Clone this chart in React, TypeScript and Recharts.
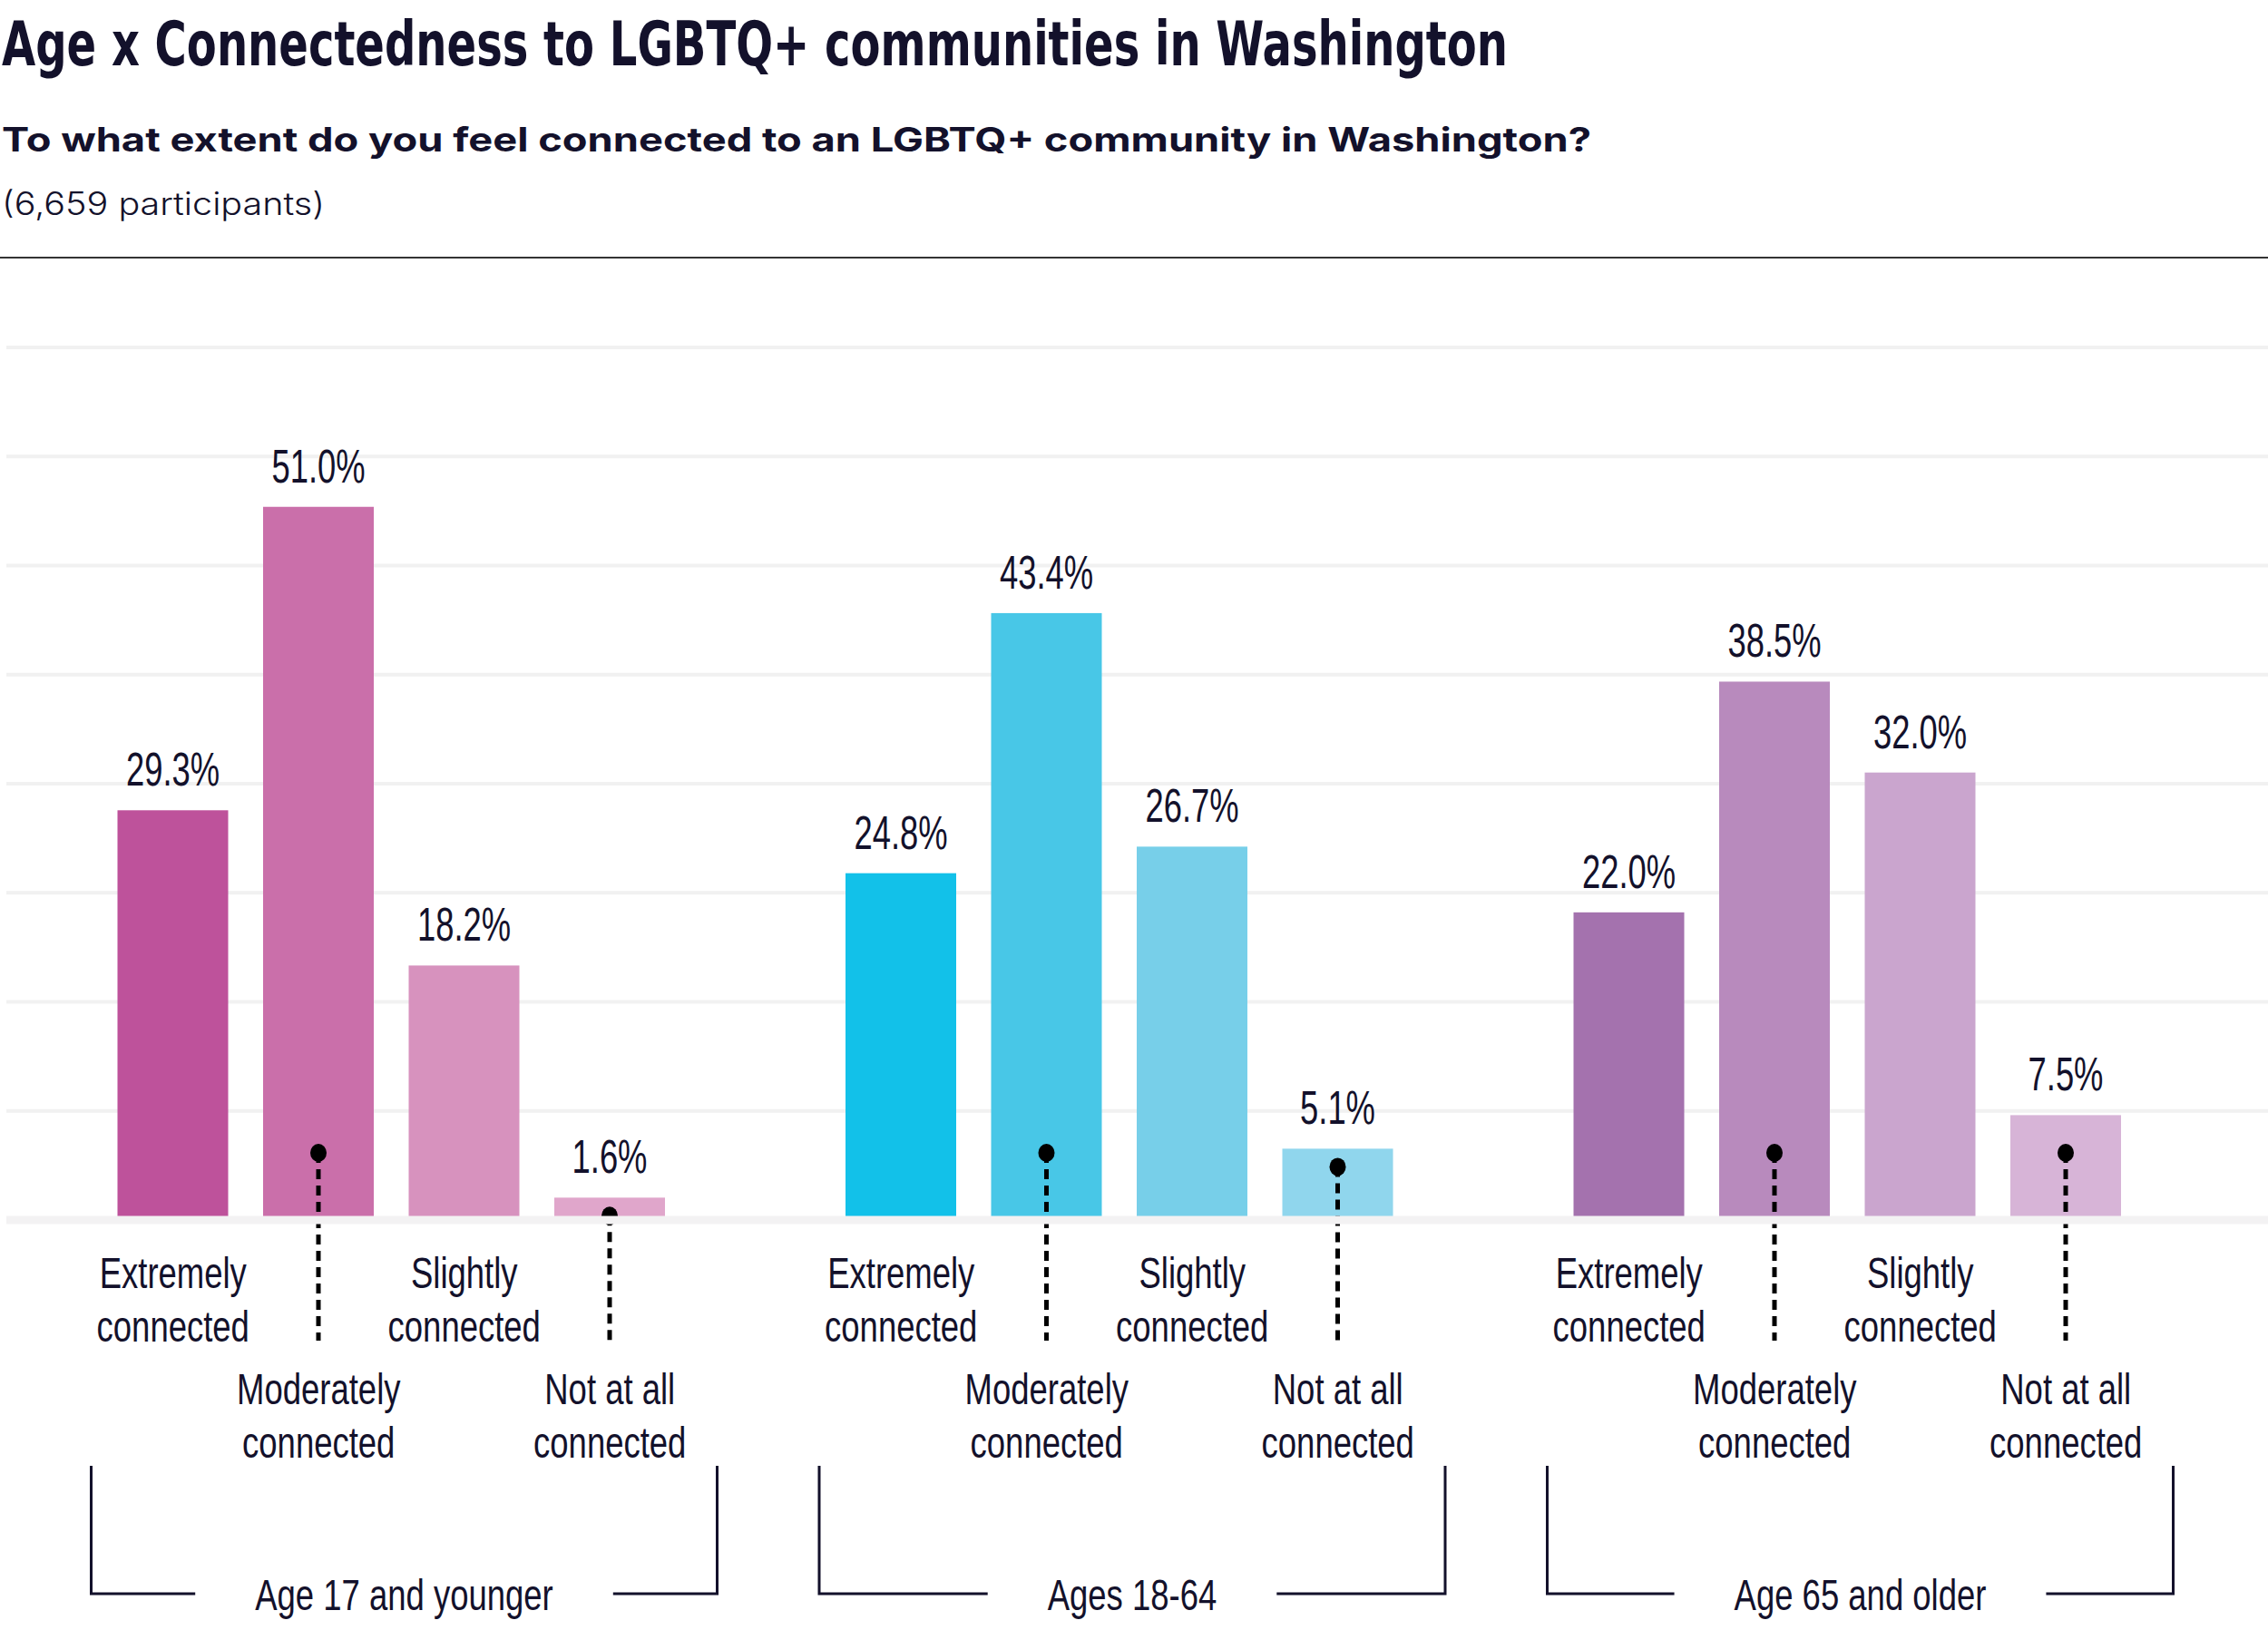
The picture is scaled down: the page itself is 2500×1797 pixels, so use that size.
import React from 'react';
import { BarChart, Bar, XAxis, YAxis, CartesianGrid, LabelList, ReferenceArea } from 'recharts';

const groups = ['Age 17 and younger', 'Ages 18-64', 'Age 65 and older'];
const levels = [
  ['Extremely', 'connected'],
  ['Moderately', 'connected'],
  ['Slightly', 'connected'],
  ['Not at all', 'connected'],
];
const youthValues = [29.3, 51.0, 18.2, 1.6];
const adultValues = [24.8, 43.4, 26.7, 5.1];
const seniorValues = [22.0, 38.5, 32.0, 7.5];
const youthColors = ['#BE529B', '#CA6FAA', '#D792BE', '#E0A6CB'];
const adultColors = ['#12C1E9', '#48C7E7', '#77CFE9', '#90D6ED'];
const seniorColors = ['#A472AE', '#B88ABD', '#CAA5CE', '#D7B4D7'];
const yTicks = [0, 7.8, 15.6, 23.4, 31.2, 39, 46.8, 54.6, 62.4];

const values = [youthValues, adultValues, seniorValues];
const palettes = [youthColors, adultColors, seniorColors];

const rows: any[] = [];
groups.forEach((g, gi) => {
  values[gi].forEach((v, li) => {
    rows.push({ key: `${gi}-${li}`, value: v, color: palettes[gi][li], level: li, group: gi });
  });
  if (gi < groups.length - 1) rows.push({ key: `gap-${gi}`, value: null, level: -1, group: gi });
});

const INK = '#13112B';
const FONT = '"Liberation Sans", Arial, sans-serif';
const LABEL_SIZE = 48;
const LABEL_SQUEEZE = 0.76;

const measure = (s: string, size: number) => {
  const ctx = document.createElement('canvas').getContext('2d');
  if (!ctx) return s.length * size * 0.5;
  ctx.font = `${size}px ${FONT}`;
  return ctx.measureText(s).width;
};

// condensed look: a plain sans squeezed horizontally
const Squeezed = ({ x, y, text, size, squeeze }: any) => (
  <text
    transform={`translate(${x},${y}) scale(${squeeze},1)`}
    textAnchor="middle"
    fontSize={size}
    fontFamily={FONT}
    fill={INK}
  >
    {text}
  </text>
);

const CategoryTick = ({ x, y, index }: any) => {
  const row = rows[index];
  if (!row || row.level < 0) return null;
  const lower = row.level % 2 === 1;
  const top = lower ? 203 : 75;
  const [a, b] = levels[row.level];
  return (
    <g>
      <Squeezed x={x} y={y + top} text={a} size={LABEL_SIZE} squeeze={LABEL_SQUEEZE} />
      <Squeezed x={x} y={y + top + 59} text={b} size={LABEL_SIZE} squeeze={LABEL_SQUEEZE} />
    </g>
  );
};

const BarShape = (props: any) => {
  const { x, y, width, height, payload } = props;
  if (payload.value == null) return null;
  const bottom = y + height;
  const cx = x + width / 2;
  const pointer = payload.level % 2 === 1;
  const cy = Math.max(y + 20, bottom - 74);
  return (
    <g>
      <rect x={x} y={y} width={width} height={height} fill={payload.color} />
      {pointer && (
        <g>
          <line x1={cx} x2={cx} y1={cy} y2={bottom + 133} stroke="#000" strokeWidth={5} strokeDasharray="11 7" />
          <ellipse cx={cx} cy={cy} rx={9} ry={10} fill="#000" />
        </g>
      )}
    </g>
  );
};

const ValueLabel = ({ x, y, width, value }: any) => {
  if (value == null) return null;
  return <Squeezed x={x + width / 2} y={y - 27} text={`${value.toFixed(1)}%`} size={52} squeeze={0.7} />;
};

const makeBracket = (label: string) => (props: any) => {
  const { x, y, width, height } = props;
  const bottom = y + height;
  const left = x - 10;
  const right = x + width + 38;
  const mid = (left + right) / 2;
  const half = (measure(label, LABEL_SIZE) * LABEL_SQUEEZE) / 2 + 66;
  const top = bottom + 271;
  const base = bottom + 412;
  return (
    <g>
      <polyline points={`${mid - half},${base} ${left},${base} ${left},${top}`} fill="none" stroke={INK} strokeWidth={3} />
      <polyline points={`${mid + half},${base} ${right},${base} ${right},${top}`} fill="none" stroke={INK} strokeWidth={3} />
      <Squeezed x={mid} y={bottom + 430} text={label} size={LABEL_SIZE} squeeze={LABEL_SQUEEZE} />
    </g>
  );
};

export default function App() {
  return (
    <div style={{ position: 'relative', width: 2500, height: 1797, background: '#fff', overflow: 'hidden' }}>
      <style>{'body { margin: 0; }'}</style>
      <svg width={2500} height={300} style={{ position: 'absolute', left: 0, top: 0 }}>
        <text
          x={2}
          y={72}
          fontSize={67}
          fontWeight={700}
          fontFamily='"DejaVu Sans Condensed", sans-serif'
          fill={INK}
          textLength={1660}
          lengthAdjust="spacingAndGlyphs"
        >
          Age x Connectedness to LGBTQ+ communities in Washington
        </text>
        <text
          x={2}
          y={167}
          fontSize={37}
          fontWeight={700}
          fontFamily="Inter, sans-serif"
          fill={INK}
          textLength={1752}
          lengthAdjust="spacingAndGlyphs"
        >
          To what extent do you feel connected to an LGBTQ+ community in Washington?
        </text>
        <text
          x={2}
          y={237}
          fontSize={35}
          fontWeight={300}
          fontFamily="Inter, sans-serif"
          fill={INK}
          textLength={356}
          lengthAdjust="spacingAndGlyphs"
        >
          (6,659 participants)
        </text>
        <line x1={0} x2={2500} y1={284} y2={284} stroke="#333" strokeWidth={2} />
      </svg>
      <div style={{ position: 'absolute', left: 0, top: 0 }}>
        <BarChart width={2500} height={1797} data={rows} margin={{ top: 383, right: 0, bottom: 0, left: 7 }}>
          <CartesianGrid vertical={false} stroke="#F1F1F1" strokeWidth={4} />
          <YAxis hide domain={[0, 62.4]} ticks={yTicks} />
          <XAxis
            dataKey="key"
            height={452}
            interval={0}
            padding={{ left: 103.5, right: 142.5 }}
            axisLine={{ stroke: '#F3F2F3', strokeWidth: 9 }}
            tickLine={false}
            tickSize={0}
            tickMargin={0}
            tick={<CategoryTick />}
          />
          {groups.map((g, gi) => (
            <ReferenceArea
              key={g}
              x1={`${gi}-0`}
              x2={`${gi}-3`}
              ifOverflow="visible"
              fill="none"
              shape={makeBracket(g)}
            />
          ))}
          <Bar dataKey="value" barSize={122} isAnimationActive={false} shape={<BarShape />}>
            <LabelList dataKey="value" content={<ValueLabel />} />
          </Bar>
        </BarChart>
      </div>
    </div>
  );
}
